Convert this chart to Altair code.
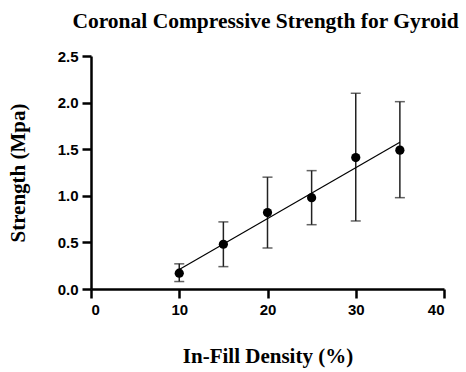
import altair as alt
import pandas as pd

density = [10, 15, 20, 25, 30, 35]
strength = [0.17, 0.48, 0.82, 0.98, 1.41, 1.49]
err_low = [0.08, 0.24, 0.44, 0.69, 0.73, 0.98]
err_high = [0.27, 0.72, 1.20, 1.27, 2.10, 2.01]
x_ticks = [0, 10, 20, 30, 40]
y_ticks = [0.0, 0.5, 1.0, 1.5, 2.0, 2.5]

df = pd.DataFrame({"x": density, "y": strength, "lo": err_low, "hi": err_high})

xs = alt.Scale(domain=[0, 40], nice=False)
ys = alt.Scale(domain=[0, 2.5], nice=False)

axis_style = dict(
    grid=False,
    domainColor="#000000", domainWidth=2.5, domainOpacity=1,
    tickColor="#000000", tickWidth=2.5, tickSize=9, tickOpacity=1,
    labelFont="Liberation Sans", labelFontSize=15, labelFontWeight="bold", labelColor="black",
    labelPadding=4,
    titleFont="Liberation Serif", titleFontSize=21, titleFontWeight="bold", titleColor="black",
)

xax = alt.Axis(values=x_ticks, title="In-Fill Density (%)", format="d",
               titleX=176.5, titleY=73, titleBaseline="alphabetic", **axis_style)
yax = alt.Axis(values=y_ticks, title="Strength (Mpa)", format=".1f",
               titleX=-73, titleY=116.5, titleAngle=-90, titleBaseline="middle",
               titleAlign="center", **axis_style)

base = alt.Chart(df)

bars = base.mark_rule(color="#222222", strokeWidth=1.5).encode(
    x=alt.X("x:Q", scale=xs, axis=xax),
    y=alt.Y("lo:Q", scale=ys, axis=yax),
    y2="hi:Q",
)
cap_lo = base.mark_tick(color="#222222", thickness=1.5, size=10, orient="horizontal").encode(
    x=alt.X("x:Q", scale=xs), y=alt.Y("lo:Q", scale=ys)
)
cap_hi = base.mark_tick(color="#222222", thickness=1.5, size=10, orient="horizontal").encode(
    x=alt.X("x:Q", scale=xs), y=alt.Y("hi:Q", scale=ys)
)
fit = base.transform_regression("x", "y", extent=[10, 35]).mark_line(
    color="black", strokeWidth=1.2
).encode(x=alt.X("x:Q", scale=xs), y=alt.Y("y:Q", scale=ys))
pts = base.mark_circle(color="black", size=85, opacity=1).encode(
    x=alt.X("x:Q", scale=xs), y=alt.Y("y:Q", scale=ys)
)

chart = alt.layer(bars, cap_lo, cap_hi, fit, pts).properties(
    width=353,
    height=233,
    background="white",
    title=alt.TitleParams("Coronal Compressive Strength for Gyroid", font="Liberation Serif",
                          fontSize=21.5, fontWeight="bold", color="black", anchor="middle",
                          frame="group", offset=17, dx=-2),
    autosize=alt.AutoSizeParams(type="none"),
    padding={"left": 91, "top": 56, "right": 22, "bottom": 83},
).configure_view(stroke=None)

chart.save("out.html", embed_options={"renderer": "svg", "actions": False})
